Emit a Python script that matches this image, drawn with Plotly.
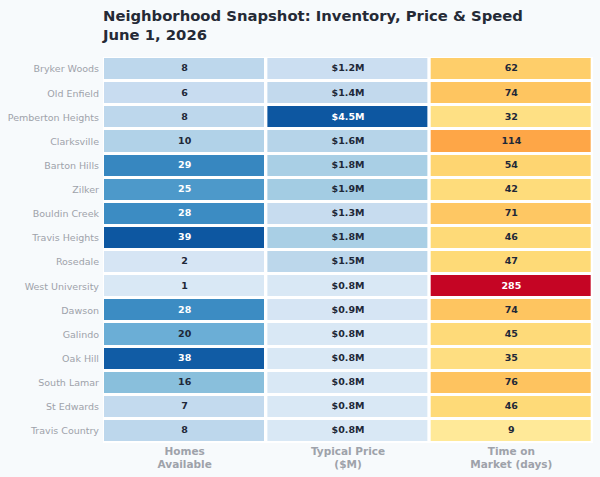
import plotly.graph_objects as go

neighborhoods = ["Bryker Woods", "Old Enfield", "Pemberton Heights", "Clarksville",
                 "Barton Hills", "Zilker", "Bouldin Creek", "Travis Heights",
                 "Rosedale", "West University", "Dawson", "Galindo", "Oak Hill",
                 "South Lamar", "St Edwards", "Travis Country"]
homes_available = [8, 6, 8, 10, 29, 25, 28, 39, 2, 1, 28, 20, 38, 16, 7, 8]
typical_price_m = [1.2, 1.4, 4.5, 1.6, 1.8, 1.9, 1.3, 1.8, 1.5, 0.8, 0.9, 0.8, 0.8, 0.8, 0.8, 0.8]
days_on_market = [62, 74, 32, 114, 54, 42, 71, 46, 47, 285, 74, 45, 35, 76, 46, 9]
column_labels = ["<b>Homes<br>Available</b>", "<b>Typical Price<br>($M)</b>", "<b>Time on<br>Market (days)</b>"]

columns = [
    (homes_available, "Blues", [str(v) for v in homes_available]),
    (typical_price_m, "Blues", [f"${v:.1f}M" for v in typical_price_m]),
    (days_on_market, "YlOrRd", [str(v) for v in days_on_market]),
]

fig = go.Figure()
FONT = "DejaVu Sans"
for i, (vals, cs, labels) in enumerate(columns):
    lo, hi = min(vals), max(vals)
    pad = 0.15 / 0.7 * (hi - lo)
    fig.add_trace(go.Heatmap(
        x=[i], y=neighborhoods, z=[[v] for v in vals],
        colorscale=cs, zmin=lo - pad, zmax=hi + pad,
        showscale=False, xgap=3, ygap=3, hoverinfo="skip"))
    colors = ["white" if (v - lo) / (hi - lo) > 0.55 else "#1e2838" for v in vals]
    fig.add_trace(go.Scatter(
        x=[i] * len(vals), y=neighborhoods, mode="text",
        text=[f"<b>{t}</b>" for t in labels],
        textfont=dict(family=FONT, size=9.5, color=colors),
        showlegend=False, hoverinfo="skip"))

fig.update_layout(
    width=600, height=477,
    margin=dict(l=103, r=7, t=57, b=34, autoexpand=False),
    paper_bgcolor="#f7fafc", plot_bgcolor="white",
    font=dict(family=FONT),
    title=dict(text="<b>Neighborhood Snapshot: Inventory, Price & Speed<br>June 1, 2026</b>",
               x=0, xref="paper", xanchor="left", y=0.956, yanchor="top",
               font=dict(family=FONT, size=14.8, color="#252a36")),
    showlegend=False,
)
fig.update_xaxes(range=[-0.5, 2.5], tickvals=[0, 1, 2], ticktext=column_labels,
                 showgrid=False, zeroline=False, showline=False, ticks="", automargin=False,
                 tickfont=dict(family=FONT, size=10.5, color="#9ea2aa"))
fig.update_yaxes(type="category", categoryorder="array", categoryarray=neighborhoods,
                 range=[len(neighborhoods) - 0.5, -0.5],
                 showgrid=False, zeroline=False,
                 showline=False, ticks="", ticklabelstandoff=3, automargin=False,
                 tickfont=dict(family=FONT, size=9.5, color="#9ea2aa"))

fig.write_html("out.html")
